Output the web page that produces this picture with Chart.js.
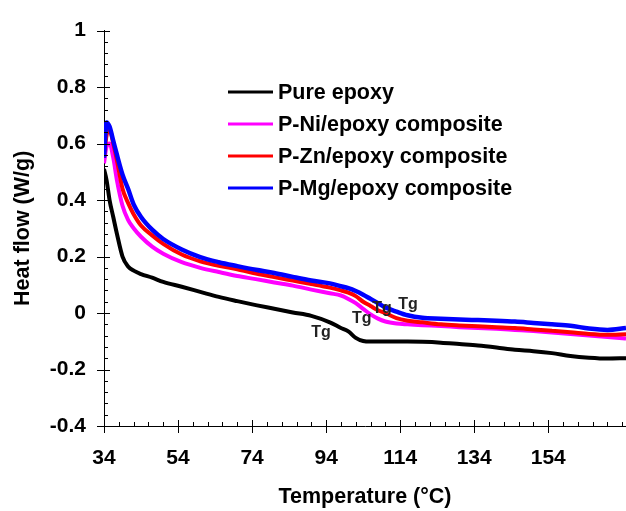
<!DOCTYPE html>
<html>
<head>
<meta charset="utf-8">
<script src="https://cdn.jsdelivr.net/npm/chart.js@4.4.1/dist/chart.umd.min.js"></script>
<style>
  html, body { margin: 0; padding: 0; background: #fff; }
  #wrap { width: 626px; height: 511px; }
</style>
</head>
<body>
<div id="wrap"><canvas id="dsc" width="626" height="511"></canvas></div>
<script>
// temperatures (°C) shared by all four DSC curves
const temps = [34, 34.7, 35.5, 36.5, 37.5, 39, 40.5, 42, 44, 47, 50, 55, 60, 65, 70, 75, 80, 85, 90, 95,
  98, 100, 102, 104, 106, 108, 110, 113, 116, 120, 125, 130, 135, 140, 145, 150, 155, 160, 165, 170, 175];

// heat flow (W/g)
const pureEpoxy = [0.51, 0.47, 0.40, 0.34, 0.28, 0.20, 0.165, 0.15, 0.138, 0.125, 0.110, 0.093, 0.075, 0.057, 0.042, 0.028, 0.015, 0.002, -0.010, -0.033,
  -0.053, -0.065, -0.088, -0.099, -0.101, -0.101, -0.101, -0.101, -0.101, -0.102, -0.105, -0.110, -0.115, -0.122, -0.130, -0.135, -0.142, -0.152, -0.158, -0.161, -0.160];
const pNi = [0.53, 0.59, 0.60, 0.55, 0.47, 0.38, 0.33, 0.30, 0.27, 0.235, 0.21, 0.18, 0.16, 0.145, 0.131, 0.12, 0.108, 0.097, 0.083, 0.070,
  0.062, 0.050, 0.035, 0.015, -0.005, -0.020, -0.030, -0.037, -0.040, -0.043, -0.046, -0.050, -0.053, -0.056, -0.060, -0.064, -0.069, -0.074, -0.080, -0.085, -0.090];
const pZn = [0.55, 0.63, 0.65, 0.60, 0.54, 0.44, 0.39, 0.35, 0.31, 0.275, 0.245, 0.207, 0.183, 0.167, 0.155, 0.14, 0.127, 0.115, 0.103, 0.090,
  0.080, 0.072, 0.060, 0.040, 0.025, 0.010, 0.000, -0.018, -0.027, -0.033, -0.040, -0.044, -0.047, -0.050, -0.053, -0.058, -0.063, -0.068, -0.074, -0.077, -0.075];
const pMg = [0.55, 0.675, 0.66, 0.61, 0.56, 0.49, 0.44, 0.385, 0.34, 0.295, 0.262, 0.225, 0.198, 0.18, 0.166, 0.153, 0.142, 0.128, 0.115, 0.105,
  0.095, 0.088, 0.078, 0.065, 0.050, 0.035, 0.020, 0.005, -0.008, -0.017, -0.020, -0.023, -0.025, -0.027, -0.030, -0.035, -0.040, -0.045, -0.055, -0.060, -0.053];

const seriesNames = ["Pure epoxy", "P-Ni/epoxy composite", "P-Zn/epoxy composite", "P-Mg/epoxy composite"];
const seriesColors = ["#000000", "#ff00ff", "#ff0000", "#0000ff"];

const xTicks = [34, 54, 74, 94, 114, 134, 154];
const yTicks = [-0.4, -0.2, 0, 0.2, 0.4, 0.6, 0.8, 1];

// Tg markers (temperature, heat flow)
const tgX = [92.6, 103.6, 109.1, 116.1];
const tgY = [-0.069, -0.021, 0.014, 0.031];

const FONT = "'Liberation Sans', Arial, sans-serif";

const allSeries = [pureEpoxy, pNi, pZn, pMg];
const datasets = allSeries.map((vals, i) => ({
  label: seriesNames[i],
  data: temps.map((t, j) => ({ x: t, y: vals[j] })),
  borderColor: seriesColors[i],
  backgroundColor: seriesColors[i],
  borderWidth: i === 3 ? 4.5 : 4,
  pointRadius: 0,
  cubicInterpolationMode: "monotone",
  order: 4 - i
}));

// axis ticks crossing the axes, legend and Tg labels
const extras = {
  id: "extras",
  afterDraw(chart) {
    const ctx = chart.ctx;
    const xs = chart.scales.x, ys = chart.scales.y;
    const x0 = xs.left, y0 = ys.bottom;
    ctx.save();
    ctx.strokeStyle = "#000";
    ctx.lineWidth = 1;
    ctx.beginPath();
    for (let v = 34; v <= 175; v += 4) {
      const px = Math.round(xs.getPixelForValue(v)) + 0.5;
      const major = xTicks.includes(v);
      ctx.moveTo(px, major ? y0 - 6 : y0 - 4);
      ctx.lineTo(px, major ? y0 + 7 : y0);
    }
    for (let k = 0; k <= 35; k++) {
      const v = -0.4 + k * 0.04;
      const py = Math.round(ys.getPixelForValue(v)) + 0.5;
      const major = k % 5 === 0;
      ctx.moveTo(major ? x0 - 7 : x0, py);
      ctx.lineTo(major ? x0 + 6 : x0 + 4, py);
    }
    ctx.stroke();

    // legend
    ctx.font = "bold 21.5px " + FONT;
    ctx.textBaseline = "middle";
    ctx.textAlign = "left";
    chart.data.datasets.forEach((ds, i) => {
      const y = 92 + i * 32;
      ctx.strokeStyle = ds.borderColor;
      ctx.lineWidth = 3;
      ctx.beginPath();
      ctx.moveTo(228, y);
      ctx.lineTo(273, y);
      ctx.stroke();
      ctx.fillStyle = "#000";
      ctx.fillText(ds.label, 278, y + 1);
    });

    // Tg labels
    ctx.font = "bold 16px " + FONT;
    ctx.textAlign = "center";
    ctx.fillStyle = "#222";
    tgX.forEach((t, i) => {
      ctx.fillText("Tg", xs.getPixelForValue(t), ys.getPixelForValue(tgY[i]));
    });
    ctx.restore();
  }
};

new Chart(document.getElementById("dsc"), {
  type: "line",
  data: { datasets },
  options: {
    responsive: false,
    animation: false,
    layout: { padding: { top: 21, right: 0, left: 0, bottom: 0 } },
    plugins: { legend: { display: false }, tooltip: { enabled: false } },
    scales: {
      x: {
        type: "linear",
        min: 34,
        max: 175,
        afterBuildTicks: s => { s.ticks = xTicks.map(v => ({ value: v })); },
        afterFit: s => { s.height = 85; },
        grid: { display: false, drawTicks: false },
        border: { display: true, color: "#000", width: 1 },
        ticks: { color: "#000", padding: 20, maxRotation: 0, font: { family: FONT, size: 21, weight: "bold" } },
        title: { display: true, text: "Temperature (°C)", color: "#000", padding: { top: 0, bottom: 1 },
          font: { family: FONT, size: 21.5, weight: "bold" } }
      },
      y: {
        min: -0.4,
        max: 1,
        afterBuildTicks: s => { s.ticks = yTicks.map(v => ({ value: v })); },
        afterFit: s => { s.width = 104; },
        grid: { display: false, drawTicks: false },
        border: { display: true, color: "#000", width: 1 },
        ticks: { color: "#000", padding: 18, font: { family: FONT, size: 21, weight: "bold" },
          callback: v => String(Math.round(v * 10) / 10) },
        title: { display: true, text: "Heat flow (W/g)", color: "#000", padding: { top: 10, bottom: 0 },
          font: { family: FONT, size: 21.5, weight: "bold" } }
      }
    }
  },
  plugins: [extras]
});
</script>
</body>
</html>
